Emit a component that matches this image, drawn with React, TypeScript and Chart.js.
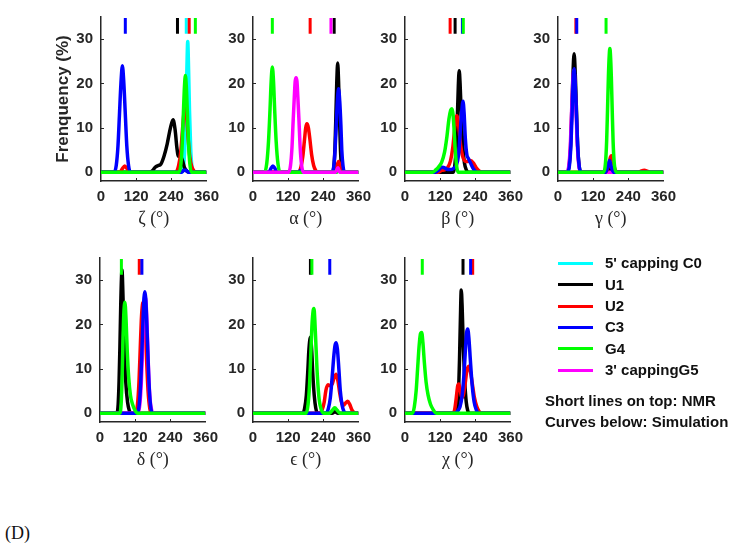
import React, { useEffect, useRef } from 'react';
import { Chart, registerables } from 'chart.js';
Chart.register(...registerables);

type Pts = [number, number][];

// ---------- categories / labels ----------
const residues = ["5' capping C0", 'U1', 'U2', 'C3', 'G4', "3' cappingG5"];
const residueColors = ['#00FFFF', '#000000', '#FF0000', '#0000FF', '#00FF00', '#FF00FF'];
const xTickValues = [0, 120, 240, 360];
const yTickValues = [0, 10, 20, 30];
const noteLines = ['Short lines on top: NMR', 'Curves below: Simulation'];

// ---------- ζ ----------
const zetaC0: Pts = [[0,0],[276,0],[282,1.5],[286,5.5],[290,14],[293,23],[296,29.5],[299,23],[302,14],[306,5.5],[310,1.5],[316,0],[360,0]];
const zetaU1: Pts = [[0,0],[165,0],[175,0.3],[185,1.1],[195,1.5],[204,1.8],[215,3.6],[226,6.4],[237,10],[246,11.8],[253,9.5],[259,5.5],[264,3.6],[271,3.6],[278,2.6],[285,1],[293,0.2],[300,0],[360,0]];
const zetaU2: Pts = [[0,0],[65,0],[73,0.8],[81,1.4],[89,0.8],[97,0],[255,0],[265,1.5],[272,4.5],[278,9.5],[284,14],[288,15.5],[292,13],[297,8],[303,3.5],[310,1.2],[318,0.2],[325,0],[360,0]];
const zetaC3: Pts = [[0,0],[45,0],[52,1.5],[58,6],[63,13],[68,20],[73,24],[78,20],[83,13],[88,6],[94,1.5],[100,0],[275,0],[283,0.4],[290,0.4],[298,0],[360,0]];
const zetaG4: Pts = [[0,0],[267,0],[273,2],[277,6],[281,13],[285,19.5],[288,21.8],[291,19.5],[295,13],[299,6],[303,2],[308,0],[360,0]];
const nmrZeta = [291, 261, 301, 83, 322, null];

// ---------- α ----------
const alphaU1: Pts = [[0,0],[272,0],[277,2],[280,6],[283,13],[286,20.5],[289,24.6],[292,20.5],[295,13],[298,6],[301,2],[306,0],[360,0]];
const alphaU2: Pts = [[0,0],[155,0],[163,1],[170,3.5],[176,7.5],[180,10],[184,10.9],[189,10],[194,7.5],[200,4],[207,1.5],[214,0.4],[222,0],[280,0],[286,1.2],[292,2.4],[298,1.2],[304,0],[360,0]];
const alphaC3: Pts = [[0,0],[55,0],[61,0.8],[68,1.4],[75,0.8],[82,0],[155,0],[164,0.4],[172,0],[270,0],[276,1.5],[280,5],[284,10.5],[288,16],[292,18.8],[296,16],[300,10.5],[303,5],[307,1.5],[312,0],[360,0]];
const alphaG4: Pts = [[0,0],[40,0],[47,2],[53,7],[58,14],[62,20.5],[66,23.7],[70,20.5],[74,14],[79,7],[85,2],[92,0],[287,0],[292,0.4],[298,0],[360,0]];
const alphaG5: Pts = [[0,0],[122,0],[128,1.5],[133,5.5],[137,11.5],[141,17],[144,20.5],[147,21.3],[150,20.5],[153,17],[157,11.5],[161,5.5],[166,1.5],[172,0],[282,0],[290,1],[296,0],[360,0]];
const nmrAlpha = [null, 277, 195, null, 66, 266];

// ---------- β ----------
const betaU1: Pts = [[0,0],[165,0],[170,1.5],[175,6],[179,13],[182,19.5],[185,22.9],[188,20],[192,13],[197,6],[203,2],[210,0.4],[215,0],[360,0]];
const betaU2: Pts = [[0,0],[115,0],[125,0.4],[135,0.5],[145,1],[155,2.5],[163,5.5],[170,10],[177,12.7],[183,10.5],[190,6],[197,3.5],[205,2.5],[215,2.4],[224,2.6],[233,2.1],[243,1],[253,0.3],[263,0],[360,0]];
const betaC3: Pts = [[0,0],[105,0],[115,0.5],[122,1],[129,1.1],[137,0.9],[145,0.6],[155,0.6],[165,0.8],[175,1.5],[183,4],[189,9.5],[194,14],[198,16],[202,13],[206,7.5],[211,4],[217,3],[224,2],[232,0.9],[240,0.2],[246,0],[360,0]];
const betaG4: Pts = [[0,0],[95,0],[105,0.5],[115,1.2],[125,2.2],[135,4.5],[143,8],[150,12],[156,14],[160,14.3],[164,13],[168,9],[172,4.5],[176,1.5],[181,0],[360,0]];
const nmrBeta = [null, 171, 154, 196, 199, null];

// ---------- γ ----------
const gammaU1: Pts = [[0,0],[32,0],[38,1.5],[43,6],[47,14],[51,22],[55,26.7],[59,22],[63,14],[67,6],[72,1.5],[78,0],[165,0],[172,0.6],[177,1.2],[182,0.6],[188,0],[360,0]];
const gammaU2: Pts = [[0,0],[160,0],[168,0.6],[174,2],[179,3.4],[183,3.7],[188,2.5],[193,1],[200,0],[275,0],[285,0.3],[295,0.4],[305,0.2],[315,0],[360,0]];
const gammaC3: Pts = [[0,0],[33,0],[39,1.5],[44,6],[48,13],[51,19.5],[55,23.3],[59,19.5],[63,13],[67,6],[72,1.5],[78,0],[163,0],[170,1.2],[176,2.6],[182,1.2],[189,0],[360,0]];
const gammaG4: Pts = [[0,0],[156,0],[162,2],[166,7],[169,14],[172,21.5],[175,26.5],[177,27.9],[179,26.5],[182,21.5],[185,14],[188,7],[192,2],[198,0],[360,0]];
const gammaG5: Pts = [[0,0],[30,0],[37,1.5],[42,6],[46,13],[50,19.5],[54,23],[58,19.5],[62,13],[66,6],[71,1.5],[77,0],[360,0]];
const nmrGamma = [null, null, 61, 64, 164, null];

// ---------- δ ----------
const deltaU1: Pts = [[0,0],[58,0],[62,2],[65,7],[68,15],[71,25],[75,32.3],[79,25],[83,15],[88,7],[94,2.5],[100,0.6],[106,0],[360,0]];
const deltaU2: Pts = [[0,0],[122,0],[128,2],[133,7],[137,14],[141,21],[145,24.5],[148,25],[151,24],[155,19],[159,12],[164,5],[170,1],[176,0],[360,0]];
const deltaC3: Pts = [[0,0],[128,0],[134,2],[139,7],[143,14],[147,21.5],[150,26],[153,27.4],[156,26],[159,21.5],[163,14],[167,7],[172,2],[178,0],[360,0]];
const deltaG4: Pts = [[0,0],[68,0],[72,2],[75,7],[78,15],[81,22],[85,25],[89,21],[93,14],[98,8],[104,4],[111,2],[119,0.7],[128,0],[360,0]];
const deltaG5: Pts = [[0,0],[130,0],[136,2],[141,7],[145,14],[149,21.5],[152,25.5],[155,26],[158,24],[162,17],[166,9],[171,3],[177,0.5],[182,0],[360,0]];
const nmrDelta = [null, null, 134, 143, 73, null];

// ---------- ϵ ----------
const epsU1: Pts = [[0,0],[170,0],[176,1],[182,4],[187,9.5],[191,14.5],[196,17.1],[200,14.5],[204,9],[209,4],[214,1.2],[220,0],[270,0],[280,0.3],[290,0],[360,0]];
const epsU2: Pts = [[0,0],[228,0],[236,0.8],[243,2.5],[249,5.2],[256,6.4],[263,6.2],[270,6.5],[277,8],[284,8.8],[290,7.2],[296,4.5],[302,2.5],[309,1.8],[316,2.3],[323,2.7],[330,2],[337,0.8],[344,0.2],[350,0],[360,0]];
const epsC3: Pts = [[0,0],[250,0],[257,1],[264,3.5],[270,8],[276,13],[280,15.3],[284,15.9],[288,14.5],[293,10],[298,5],[304,1.8],[311,0.3],[316,0],[360,0]];
const epsG4: Pts = [[0,0],[182,0],[188,2],[193,6.5],[197,13],[201,19.5],[205,23],[208,23.6],[211,21],[215,15],[220,8],[226,3],[233,0.8],[240,0],[262,0],[270,0.6],[279,1.2],[288,0.6],[296,0],[360,0]];
const nmrEps = [null, 196, null, 262, 201, null];

// ---------- χ ----------
const chiU1: Pts = [[0,0],[176,0],[180,1.5],[183,5],[186,12],[189,21],[192,27.8],[195,24],[199,15],[204,7],[209,2.5],[214,0.6],[219,0],[360,0]];
const chiU2: Pts = [[0,0],[165,0],[170,1],[175,3.5],[180,6.2],[184,6.6],[189,5],[194,3.5],[199,4],[205,6.5],[211,9.5],[217,10.6],[223,9.5],[230,6.5],[237,3.5],[245,1.5],[253,0.4],[260,0],[360,0]];
const chiC3: Pts = [[0,0],[170,0],[180,0.5],[188,1.5],[195,4],[201,8.5],[206,14],[210,18],[214,19],[218,17],[223,12],[229,6.5],[236,2.5],[243,0.8],[250,0],[360,0]];
const chiG4: Pts = [[0,0],[26,0],[32,1.5],[38,5],[43,10],[48,15],[53,18],[57,18.2],[61,16],[66,11.5],[72,7],[79,4],[87,2],[96,0.8],[106,0],[360,0]];
const nmrChi = [null, 198, 231, 224, 59, null];

// ---------- layout ----------
const NMR_LO = 31.2;
const NMR_HI = 34.8;
const TICK_FONT = { family: '"Liberation Sans", Arial, sans-serif', size: 15, weight: 'bold' as const };
const TITLE_FONT = { family: '"Liberation Serif", "Times New Roman", serif', size: 18 };
const AXIS_COLOR = '#262626';

type PanelCfg = {
  key: string;
  title: string;
  curves: (Pts | null)[];
  order: number[]; // bottom -> top
  nmr: (number | null)[];
  left: number;
  top: number;
  yTitle?: string;
};

const panels: PanelCfg[] = [
  { key: 'zeta', title: 'ζ (°)', curves: [zetaC0, zetaU1, zetaU2, zetaC3, zetaG4, null], order: [0, 1, 2, 3, 4], nmr: nmrZeta, left: 101, top: 0, yTitle: 'Frenquency (%)' },
  { key: 'alpha', title: 'α (°)', curves: [null, alphaU1, alphaU2, alphaC3, alphaG4, alphaG5], order: [1, 2, 3, 4, 5], nmr: nmrAlpha, left: 253, top: 0 },
  { key: 'beta', title: 'β (°)', curves: [null, betaU1, betaU2, betaC3, betaG4, null], order: [1, 2, 3, 4], nmr: nmrBeta, left: 405, top: 0 },
  { key: 'gamma', title: 'γ (°)', curves: [null, gammaU1, gammaU2, gammaC3, gammaG4, gammaG5], order: [1, 5, 2, 3, 4], nmr: nmrGamma, left: 558, top: 0 },
  { key: 'delta', title: 'δ (°)', curves: [null, deltaU1, deltaU2, deltaC3, deltaG4, deltaG5], order: [1, 2, 5, 3, 4], nmr: nmrDelta, left: 100, top: 241 },
  { key: 'eps', title: 'ϵ (°)', curves: [null, epsU1, epsU2, epsC3, epsG4, null], order: [1, 2, 3, 4], nmr: nmrEps, left: 253, top: 241 },
  { key: 'chi', title: 'χ (°)', curves: [null, chiU1, chiU2, chiC3, chiG4, null], order: [1, 2, 3, 4], nmr: nmrChi, left: 405, top: 241 },
];

const Y_AXIS_W = 60;
const X_AXIS_H = 50;
const PAD_TOP = 10;
const PAD_RIGHT = 18;
const PLOT_W = 107;
const PLOT_H = 171;
const CANVAS_W = Y_AXIS_W + PLOT_W + PAD_RIGHT;
const CANVAS_H = PAD_TOP + PLOT_H + X_AXIS_H;

const inwardTicks = {
  id: 'inwardTicks',
  afterDraw(chart: any) {
    const { ctx, scales } = chart;
    const x = scales.x;
    const y = scales.y;
    ctx.save();
    ctx.strokeStyle = AXIS_COLOR;
    ctx.lineWidth = 1;
    xTickValues.slice(1, -1).forEach((v) => {
      const px = Math.round(x.getPixelForValue(v)) + 0.5;
      ctx.beginPath();
      ctx.moveTo(px, x.top);
      ctx.lineTo(px, x.top - 3);
      ctx.stroke();
    });
    yTickValues.slice(1).forEach((v) => {
      const py = Math.round(y.getPixelForValue(v)) + 0.5;
      ctx.beginPath();
      ctx.moveTo(y.right, py);
      ctx.lineTo(y.right + 3, py);
      ctx.stroke();
    });
    ctx.restore();
  },
};

function Panel({ cfg }: { cfg: PanelCfg }) {
  const ref = useRef<HTMLCanvasElement>(null);
  useEffect(() => {
    if (!ref.current) return;
    const stack: any[] = []; // bottom -> top
    cfg.order.forEach((i) => {
      const c = cfg.curves[i];
      if (!c) return;
      stack.push({
        label: residues[i],
        data: c.map(([x, y]) => ({ x, y })),
        borderColor: residueColors[i],
        backgroundColor: residueColors[i],
        borderWidth: 3.5,
        pointRadius: 0,
        tension: 0.4,
        cubicInterpolationMode: 'monotone',
        fill: false,
      });
    });
    cfg.nmr.forEach((v, i) => {
      if (v == null) return;
      stack.push({
        label: residues[i] + ' NMR',
        data: [{ x: v, y: NMR_LO }, { x: v, y: NMR_HI }],
        borderColor: residueColors[i],
        borderWidth: 3,
        borderCapStyle: 'butt',
        pointRadius: 0,
        fill: false,
      });
    });
    // Chart.js paints dataset 0 last (on top), so reverse the stack
    const datasets = stack.slice().reverse();
    const chart = new Chart(ref.current, {
      type: 'line',
      data: { datasets },
      plugins: [inwardTicks],
      options: {
        responsive: false,
        animation: false,
        events: [],
        layout: { padding: { left: 0, right: PAD_RIGHT, top: PAD_TOP, bottom: 0 } },
        plugins: { legend: { display: false }, tooltip: { enabled: false } },
        scales: {
          x: {
            type: 'linear',
            min: 0,
            max: 360,
            afterBuildTicks: (s: any) => { s.ticks = xTickValues.map((v) => ({ value: v })); },
            afterFit: (s: any) => { s.height = X_AXIS_H; },
            ticks: { font: TICK_FONT, color: AXIS_COLOR, padding: 7, maxRotation: 0, autoSkip: false },
            grid: { display: false, drawTicks: false },
            border: { display: true, color: AXIS_COLOR, width: 1.5 },
            title: { display: true, text: cfg.title, font: TITLE_FONT, color: AXIS_COLOR, padding: { top: 0, bottom: 1 } },
          },
          y: {
            type: 'linear',
            min: -2,
            max: 35,
            afterBuildTicks: (s: any) => { s.ticks = yTickValues.map((v) => ({ value: v })); },
            afterFit: (s: any) => { s.width = Y_AXIS_W; },
            ticks: { font: TICK_FONT, color: AXIS_COLOR, padding: 8, autoSkip: false },
            grid: { display: false, drawTicks: false },
            border: { display: true, color: AXIS_COLOR, width: 1.5 },
            title: {
              display: !!cfg.yTitle,
              text: cfg.yTitle || '',
              font: { family: '"Liberation Sans", Arial, sans-serif', size: 17, weight: 'bold' },
              color: AXIS_COLOR,
              padding: { top: 12, bottom: 0 },
            },
          },
        },
      } as any,
    });
    return () => chart.destroy();
  }, [cfg]);
  return (
    <canvas
      ref={ref}
      width={CANVAS_W}
      height={CANVAS_H}
      style={{ position: 'absolute', left: cfg.left - Y_AXIS_W, top: cfg.top, width: CANVAS_W, height: CANVAS_H }}
    />
  );
}

const legendFont: React.CSSProperties = {
  fontFamily: '"Liberation Sans", Arial, sans-serif',
  fontWeight: 'bold',
  fontSize: 15,
  lineHeight: '18px',
  color: '#111',
  whiteSpace: 'nowrap',
  position: 'absolute',
};

export default function App() {
  return (
    <div style={{ position: 'absolute', left: 0, top: 0, width: 749, height: 549, background: '#fff', overflow: 'hidden' }}>
      {panels.map((p) => (
        <Panel key={p.key} cfg={p} />
      ))}
      {residues.map((r, i) => {
        const cy = 263.3 + i * 21.35;
        return (
          <React.Fragment key={r}>
            <div style={{ position: 'absolute', left: 558, top: cy - 1.5, width: 35, height: 3, background: residueColors[i] }} />
            <div style={{ ...legendFont, left: 605, top: cy - 9 }}>{r}</div>
          </React.Fragment>
        );
      })}
      {noteLines.map((t, i) => (
        <div key={t} style={{ ...legendFont, left: 545, top: 400.7 + i * 21 - 9 }}>{t}</div>
      ))}
      <div style={{ position: 'absolute', left: 5, top: 522, fontFamily: '"Liberation Serif", "Times New Roman", serif', fontSize: 18, lineHeight: '22px', color: '#111' }}>(D)</div>
    </div>
  );
}
